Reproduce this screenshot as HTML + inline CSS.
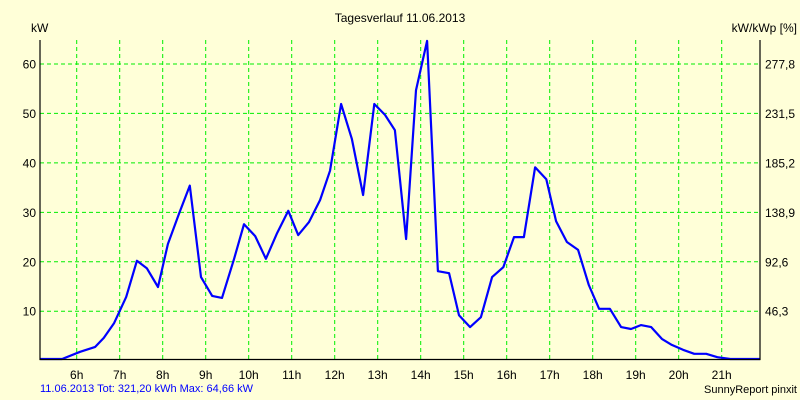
<!DOCTYPE html>
<html><head><meta charset="utf-8"><style>
body{margin:0;background:#ffffd8;}
svg{display:block;font-family:"Liberation Sans",sans-serif;font-size:12px;}
</style></head><body>
<svg id="chart" width="800" height="400">
<rect width="800" height="400" fill="#ffffd8"/>
<text x="400" y="22" text-anchor="middle">Tagesverlauf 11.06.2013</text>
<text x="31" y="32">kW</text>
<text x="797" y="32" text-anchor="end">kW/kWp [%]</text>
<g id="grid"></g>
<g id="ticks"></g>
<path id="line" fill="none" stroke="#0000ff" stroke-width="2.2" stroke-linejoin="round"/>
<path d="M40 40 V359.5 H760 V40" fill="none" stroke="#000" stroke-width="1.2"/>
<text x="40" y="392" fill="#0000ff" font-size="11">11.06.2013 Tot: 321,20 kWh Max: 64,66 kW</text>
<text x="797" y="393" text-anchor="end" font-size="11">SunnyReport pinxit</text>
</svg>
<script>
const hourTicks=[6,7,8,9,10,11,12,13,14,15,16,17,18,19,20,21];
const kwTicks=[10,20,30,40,50,60];
const pctLabels=["46,3","92,6","138,9","185,2","231,5","277,8"];
const times=[5.15,5.66,6.08,6.43,6.63,6.87,7.15,7.40,7.63,7.89,8.12,8.38,8.63,8.89,9.15,9.38,9.66,9.89,10.15,10.40,10.66,10.92,11.15,11.40,11.66,11.89,12.15,12.40,12.66,12.92,13.17,13.40,13.66,13.89,14.15,14.40,14.66,14.89,15.15,15.40,15.66,15.92,16.17,16.40,16.66,16.92,17.15,17.40,17.66,17.91,18.15,18.40,18.66,18.89,19.12,19.36,19.61,19.84,20.10,20.36,20.64,20.90,21.20,21.89];
const power=[0,0,1.8,2.8,4.6,7.6,12.9,20.2,18.7,14.9,23.6,29.7,35.4,16.9,13.1,12.7,20.6,27.6,25.2,20.6,25.8,30.3,25.4,28.0,32.5,38.4,51.9,44.8,33.5,51.9,49.7,46.6,24.6,54.7,64.66,18.1,17.7,9.2,6.8,8.8,16.9,18.9,25.0,25.0,39.1,36.7,28.2,24.0,22.4,15.3,10.5,10.5,6.8,6.4,7.2,6.8,4.4,3.2,2.2,1.4,1.4,0.7,0,0];
const X=t=>76.7+43*(t-6);
const Y=v=>360.7-4.946*v;
const NS="http://www.w3.org/2000/svg";
const grid=document.getElementById('grid'),ticks=document.getElementById('ticks');
function mk(tag,attrs,parent){const e=document.createElementNS(NS,tag);for(const k in attrs)e.setAttribute(k,attrs[k]);parent.appendChild(e);return e;}
hourTicks.forEach(h=>{
  const x=X(h);
  const l=mk('line',{x1:x,x2:x,y1:40,y2:359,stroke:'#00ee00','stroke-dasharray':'4,3'},grid);
  
  
  const t=mk('text',{x:x,y:379,'text-anchor':'middle'},ticks);t.textContent=h+'h';
  
  
});
kwTicks.forEach((v,i)=>{
  const y=Y(v);
  const l=mk('line',{x1:40,x2:760,y1:y,y2:y,stroke:'#00ee00','stroke-dasharray':'4,3'},grid);
  
  
  const t=mk('text',{x:36,y:y+4.5,'text-anchor':'end'},ticks);t.textContent=v;
  
  
  const r=mk('text',{x:765,y:y+4.5},ticks);r.textContent=pctLabels[i];
  
  
});
document.getElementById('line').setAttribute('d',times.map((t,i)=>(i?'L':'M')+X(t).toFixed(1)+' '+Math.min(359,Y(power[i])).toFixed(1)).join(' '));
</script>
</body></html>
